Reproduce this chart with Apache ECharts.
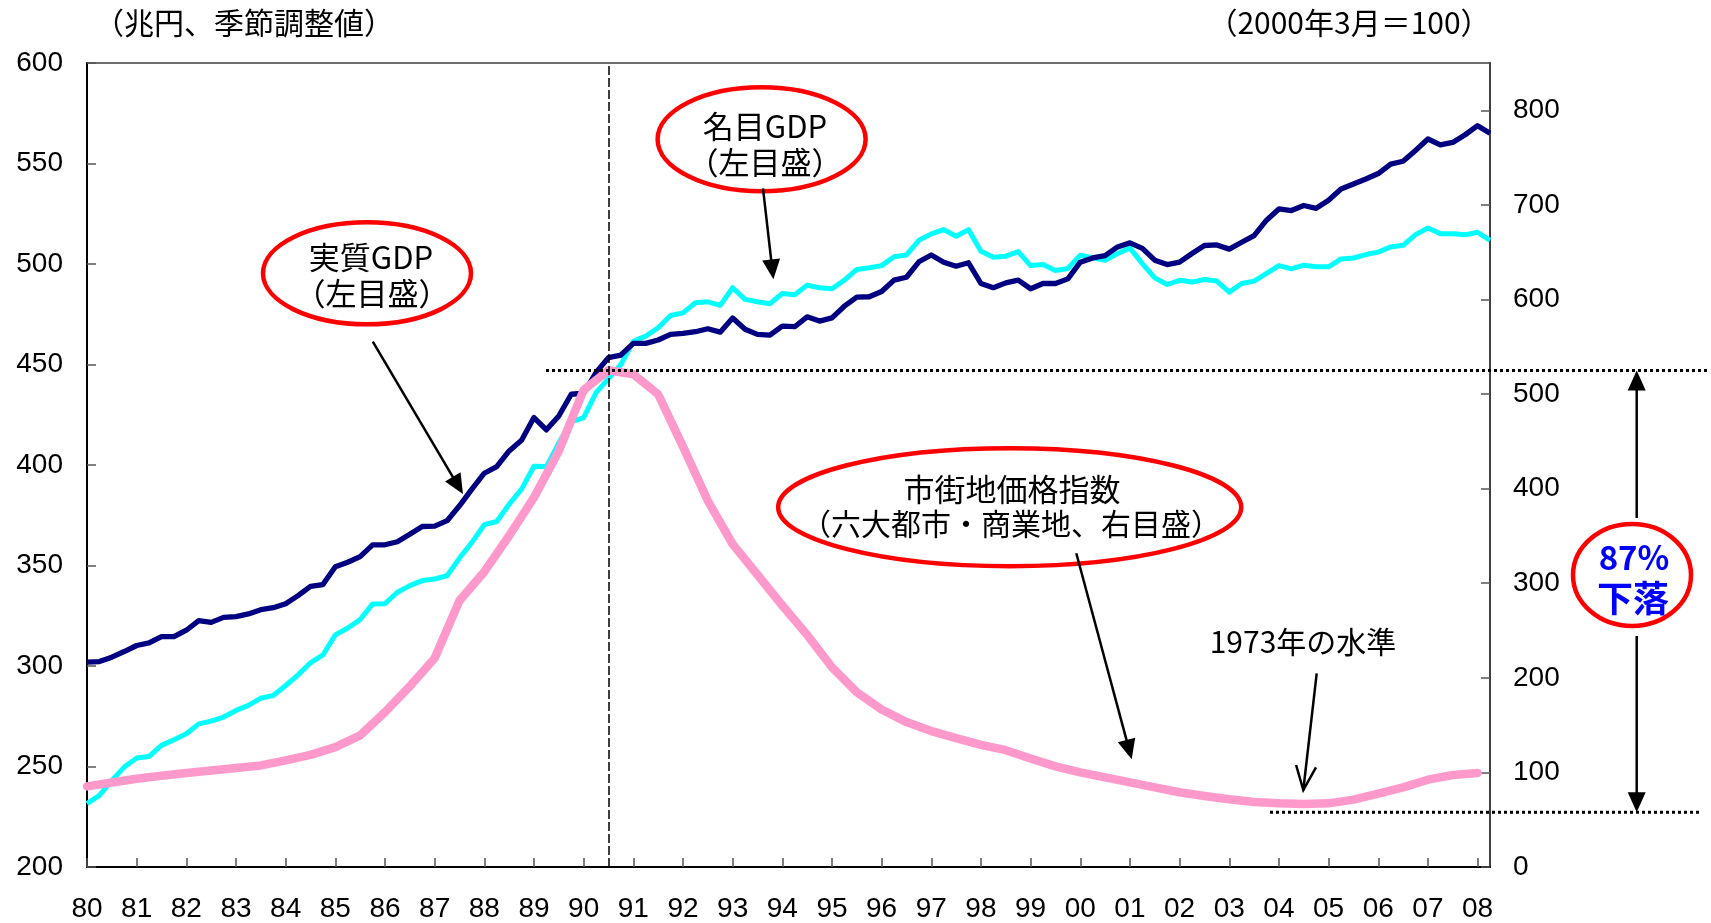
<!DOCTYPE html>
<html>
<head>
<meta charset="utf-8">
<script src="https://cdn.jsdelivr.net/npm/echarts@6/dist/echarts.min.js"></script>
<style>
html,body{margin:0;padding:0;background:#fff;}
#c{width:1711px;height:923px;}
</style>
</head>
<body>
<div id="c"></div>
<script>
// ---------- DATA ----------
// Quarterly categories 1980Q1 .. 2008Q2
const firstYear = 1980;
const lastYear = 2008;
const lastQuarter = 2;
const quarters = [];
for (let y = firstYear; y <= lastYear; y++) {
  for (let q = 1; q <= 4; q++) {
    if (y === lastYear && q > lastQuarter) break;
    quarters.push(y + 'Q' + q);
  }
}

// 実質GDP (兆円, 季節調整値) — quarterly, left axis
const realGDP = [
  301.9, 302.2, 304.4, 307.2, 310.2, 311.5, 314.6, 314.6, 317.8, 322.6,
  321.7, 324.2, 324.6, 325.9, 328.0, 329.0, 331.0, 335.0, 339.6, 340.5,
  349.4, 351.6, 354.4, 360.3, 360.3, 361.8, 365.6, 369.4, 369.6, 372.3,
  379.7, 388.0, 395.9, 399.2, 407.0, 412.3, 423.6, 417.5, 424.4, 435.2,
  435.7, 446.0, 453.4, 454.7, 460.5, 460.5, 462.2, 465.0, 465.5, 466.3,
  467.8, 466.1, 473.1, 467.5, 465.0, 464.6, 469.1, 468.8, 473.7, 471.6,
  473.2, 479.0, 483.5, 483.7, 486.3, 492.0, 493.4, 501.1, 504.5, 500.9,
  498.9, 500.6, 490.3, 488.2, 490.6, 492.0, 487.7, 490.3, 490.3, 492.6,
  500.9, 503.0, 504.2, 508.5, 510.5, 507.8, 501.9, 499.7, 500.9, 505.2,
  509.2, 509.5, 507.4, 510.8, 514.1, 521.8, 527.4, 526.6, 529.1, 527.7,
  531.7, 537.3, 539.8, 542.3, 545.0, 549.7, 551.1, 556.5, 562.2, 559.3,
  560.5, 564.3, 568.8, 565.1
];

// 名目GDP (兆円, 季節調整値) — quarterly, left axis
const nominalGDP = [
  231.5, 235.6, 243.1, 249.7, 254.2, 255.0, 260.5, 263.3, 266.3, 271.2,
  272.6, 274.6, 277.9, 280.4, 284.0, 285.3, 290.3, 295.6, 301.6, 305.5,
  315.5, 318.9, 323.1, 330.9, 331.0, 336.7, 340.0, 342.5, 343.3, 344.9,
  353.7, 361.5, 370.3, 371.9, 380.5, 388.0, 399.4, 399.2, 411.0, 421.5,
  423.6, 436.0, 443.0, 450.0, 461.5, 464.1, 468.3, 474.4, 475.7, 480.7,
  481.2, 479.4, 488.2, 482.4, 481.2, 480.2, 485.3, 484.7, 489.5, 488.2,
  487.7, 492.0, 497.3, 498.1, 499.2, 503.6, 504.5, 511.8, 515.0, 517.1,
  513.8, 517.1, 506.4, 503.4, 503.9, 506.2, 499.2, 499.7, 496.8, 497.8,
  504.4, 503.1, 501.9, 505.2, 507.9, 500.2, 493.1, 489.8, 491.9, 491.0,
  492.3, 491.5, 486.0, 490.3, 491.5, 495.3, 499.2, 497.6, 499.4, 498.6,
  498.6, 502.5, 503.0, 504.7, 505.9, 508.5, 509.3, 514.6, 517.9, 515.1,
  515.1, 514.5, 515.8, 511.8
];

// 市街地価格指数 (六大都市・商業地, 2000年3月=100) — semiannual (Mar, Sep) from 1980 Mar, right axis
const landPrice = [
   85.2,  89.4,  93.3,  96.5,  99.3, 102.1, 104.6, 107.4, 112.7, 118.6,
  126.7, 139.1, 163.7, 191.1, 220.7, 281.6, 312.2, 350.2, 390.6, 439.9,
  504.3, 525.1, 520.9, 499.8, 444.5, 387.2, 341.4, 309.0, 276.5, 245.4,
  211.2, 184.8, 166.5, 153.2, 143.7, 136.3, 129.2, 123.5, 114.8, 106.4,
  100.0,  94.8,  89.5,  84.2,  79.0,  75.1,  71.6,  68.8,  67.3,  66.6,
   67.3,  71.2,  77.6,  84.2,  92.3,  97.3,  99.4
];

// Reference levels (right axis) and marker
const landPeakLevel = 525;     // 1990年のピーク
const land1973Level = 58;      // 1973年の水準
const peakQuarter = '1990Q3';  // 縦の破線

// Axis ticks
const leftAxis = { min: 200, max: 600, interval: 50 };
const rightAxis = { min: 0, max: 850, interval: 100, lastLabel: 800 };

// Texts
const leftUnit = '（兆円、季節調整値）';
const rightUnit = '（2000年3月＝100）';

// ---------- CHART ----------
const landSeriesData = quarters.map((q, i) => (i % 2 === 0 && landPrice[i / 2] !== undefined) ? landPrice[i / 2] : null);

const JP = '"Noto Sans CJK JP", "Noto Sans", sans-serif';
const NUM = '"Liberation Sans", Arial, sans-serif';

const chart = echarts.init(document.getElementById('c'), null, { renderer: 'canvas' });

chart.setOption({
  animation: false,
  backgroundColor: '#ffffff',
  grid: {
    left: 87, right: 221, top: 63, bottom: 55,
    show: true, borderColor: '#404040', borderWidth: 1.5, backgroundColor: 'transparent'
  },
  xAxis: {
    type: 'category',
    data: quarters,
    boundaryGap: false,
    axisLine: { show: true, lineStyle: { color: '#000', width: 2 } },
    axisTick: { show: true, inside: true, interval: 3, length: 9, lineStyle: { color: '#555', width: 1.5 } },
    axisLabel: {
      interval: 3, margin: 28, color: '#000', fontSize: 28, fontFamily: NUM,
      formatter: v => v.slice(2, 4)
    },
    splitLine: { show: false }
  },
  yAxis: [
    {
      type: 'value', position: 'left',
      min: leftAxis.min, max: leftAxis.max, interval: leftAxis.interval,
      axisLine: { show: true, lineStyle: { color: '#000', width: 2 } },
      axisTick: { show: true, inside: true, length: 9, lineStyle: { color: '#555', width: 1.5 } },
      axisLabel: { margin: 24, color: '#000', fontSize: 28, fontFamily: NUM },
      splitLine: { show: false }
    },
    {
      type: 'value', position: 'right',
      min: rightAxis.min, max: rightAxis.max, interval: rightAxis.interval,
      axisLine: { show: true, lineStyle: { color: '#404040', width: 2 } },
      axisTick: { show: true, inside: true, length: 9, lineStyle: { color: '#555', width: 1.5 } },
      axisLabel: {
        margin: 23, color: '#000', fontSize: 28, fontFamily: NUM, showMaxLabel: false,
        formatter: v => (v > rightAxis.lastLabel ? '' : String(v))
      },
      splitLine: { show: false }
    }
  ],
  series: [
    {
      name: '名目GDP', type: 'line', yAxisIndex: 0, data: nominalGDP,
      showSymbol: false, symbol: 'none',
      lineStyle: { color: '#00FFFF', width: 5, join: 'round' }, z: 2
    },
    {
      name: '実質GDP', type: 'line', yAxisIndex: 0, data: realGDP,
      showSymbol: false, symbol: 'none',
      lineStyle: { color: '#000080', width: 5.3, join: 'round' }, z: 3,
      markLine: {
        silent: true, symbol: ['none', 'none'], label: { show: false },
        lineStyle: { color: '#000', width: 1.5, type: [9, 3] },
        data: [{ xAxis: peakQuarter }]
      }
    },
    {
      name: '市街地価格指数', type: 'line', yAxisIndex: 1, data: landSeriesData,
      connectNulls: true, showSymbol: false, symbol: 'none',
      lineStyle: { color: '#FF99CC', width: 8.5, cap: 'round', join: 'round' }, z: 4
    }
  ]
});

// ---------- ANNOTATIONS ----------
function arrow(x1, y1, x2, y2, open) {
  const dx = x2 - x1, dy = y2 - y1, L = Math.hypot(dx, dy);
  const ux = dx / L, uy = dy / L, px = -uy, py = ux;
  const hl = open ? 24 : 20, hw = open ? 10 : 9;
  const bx = x2 - ux * hl, by = y2 - uy * hl;
  const els = [];
  const ex = open ? x2 : bx + ux * 2, ey = open ? y2 : by + uy * 2;
  els.push({ type: 'line', shape: { x1, y1, x2: ex, y2: ey }, style: { stroke: '#000', lineWidth: 2.5 }, z: 100 });
  if (open) {
    els.push({ type: 'polyline', shape: { points: [[bx + px * hw, by + py * hw], [x2, y2], [bx - px * hw, by - py * hw]] },
      style: { stroke: '#000', lineWidth: 2.5, fill: null }, z: 100 });
  } else {
    els.push({ type: 'polygon', shape: { points: [[x2, y2], [bx + px * hw, by + py * hw], [bx - px * hw, by - py * hw]] },
      style: { fill: '#000', stroke: null }, z: 100 });
  }
  return els;
}
function ellipse(cx, cy, rx, ry, fill) {
  return { type: 'ellipse', shape: { cx, cy, rx, ry }, style: { fill: fill || 'rgba(255,255,255,0)', stroke: '#FF0000', lineWidth: 4.5 }, z: 90 };
}
function label(text, x, y, opt) {
  opt = opt || {};
  return { type: 'text', x, y, z: 110,
    style: { text, fill: opt.color || '#000', font: (opt.weight || 'normal') + ' ' + (opt.size || 30) + 'px ' + (opt.family || JP),
      textAlign: 'center', textVerticalAlign: 'middle' } };
}

const yPeak = chart.convertToPixel({ yAxisIndex: 1 }, landPeakLevel);
const y1973 = chart.convertToPixel({ yAxisIndex: 1 }, land1973Level);
const arrowX = 1636.7;

const g = [];
g.push(label(leftUnit, 244, 23, { size: 30 }));
g.push(label(rightUnit, 1349, 23, { size: 30 }));

// dotted reference lines
g.push({ type: 'line', shape: { x1: 546, y1: yPeak, x2: 1707, y2: yPeak }, style: { stroke: '#000', lineWidth: 3, lineDash: [3, 3] }, z: 80 });
g.push({ type: 'line', shape: { x1: 1270, y1: y1973, x2: 1702, y2: y1973 }, style: { stroke: '#000', lineWidth: 3, lineDash: [3, 3] }, z: 80 });

// 実質GDP
g.push(ellipse(367, 273.3, 104, 51));
g.push(label('実質GDP', 371, 257.5, { size: 31 }));
g.push(label('（左目盛）', 372, 293, { size: 31 }));
g.push(...arrow(372.8, 341.7, 463, 494));

// 名目GDP
g.push(ellipse(761.6, 139.2, 104, 52));
g.push(label('名目GDP', 765, 126.7, { size: 31 }));
g.push(label('（左目盛）', 765, 162.5, { size: 31 }));
g.push(...arrow(763, 188.3, 773.4, 279.3));

// 市街地価格指数
g.push(ellipse(1009.7, 507.2, 231.5, 59));
g.push(label('市街地価格指数', 1012, 489, { size: 31 }));
g.push(label('（六大都市・商業地、右目盛）', 1011, 524));
g.push(...arrow(1076.3, 553.3, 1131.7, 759.3));

// 1973年の水準
g.push(label('1973年の水準', 1303, 641.7));
g.push(...arrow(1316.7, 673.3, 1303.3, 790, true));

// 87%下落
g.push(...arrow(arrowX, 518, arrowX, yPeak));
g.push(...arrow(arrowX, 636, arrowX, y1973));
g.push(ellipse(1632, 575, 59, 51, '#ffffff'));
g.push(label('87%', 1634, 557.5, { size: 33, weight: 'bold', color: '#0000FF' }));
g.push(label('下落', 1633, 598.3, { size: 36, weight: 'bold', color: '#0000FF' }));

chart.setOption({ graphic: { elements: g } });
</script>
</body>
</html>
